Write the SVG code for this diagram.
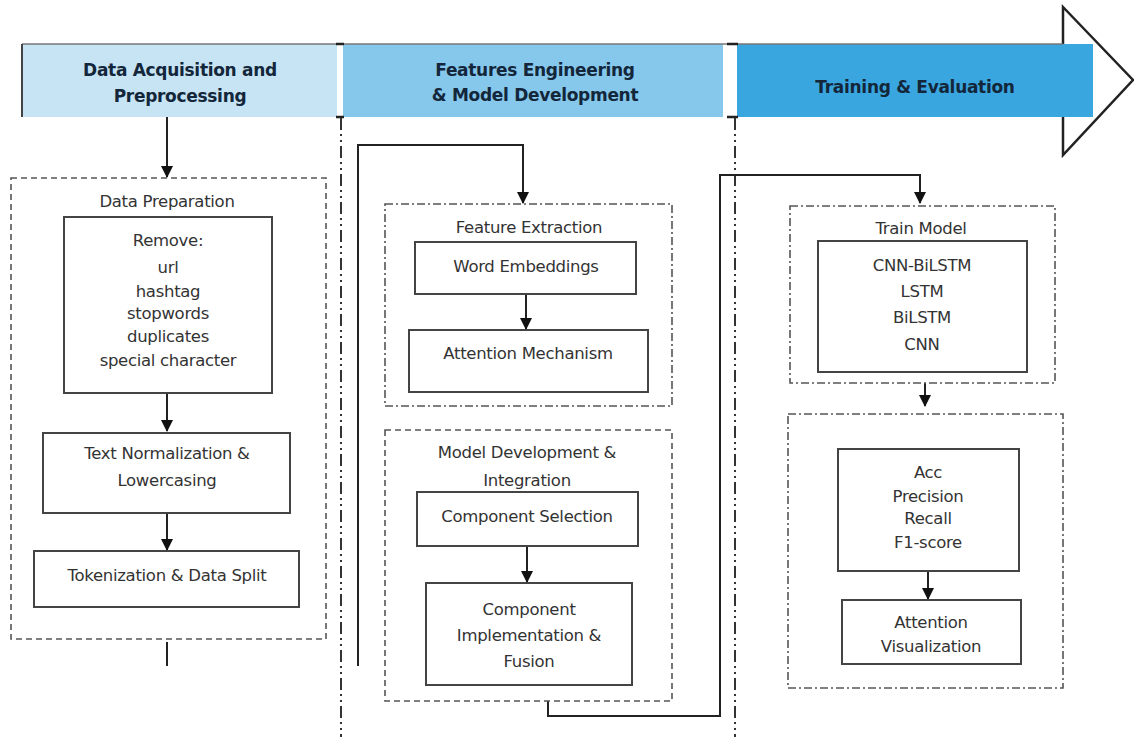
<svg xmlns="http://www.w3.org/2000/svg" width="1134" height="737" viewBox="0 0 1134 737">
<defs>
<marker id="ah" markerWidth="12" markerHeight="12" refX="11" refY="6" orient="auto" markerUnits="userSpaceOnUse">
<path d="M0,0 L12,6 L0,12 Z" fill="#111"/>
</marker>
<style>
.hdr{font-family:"DejaVu Sans",Verdana,sans-serif;font-weight:bold;font-size:17px;fill:#13263a;text-anchor:middle;letter-spacing:-0.3px}
.t{font-family:"DejaVu Sans",Verdana,sans-serif;font-size:16.5px;fill:#333;text-anchor:middle;letter-spacing:-0.3px}
.box{fill:#fff;stroke:#444;stroke-width:2}
.dash{fill:none;stroke:#555;stroke-width:1.6;stroke-dasharray:6,4}
.dd{fill:none;stroke:#555;stroke-width:1.6;stroke-dasharray:8,3,2,3}
.div{fill:none;stroke:#333;stroke-width:2;stroke-dasharray:12,4,2,4,2,4}
.con{fill:none;stroke:#222;stroke-width:2}
</style>
</defs>

<g id="header">
<path d="M1063,44 L1063,7 L1133,80 L1063,155 L1063,117" fill="#fff" stroke="#222" stroke-width="2.5"/>
<rect x="22" y="44" width="315" height="73" fill="#c6e4f4"/>
<rect x="343" y="44" width="380" height="73" fill="#86c8ec"/>
<rect x="737" y="44" width="356" height="73" fill="#3aa6e0"/>
<line x1="22" y1="44" x2="1063" y2="44" stroke="#777" stroke-width="1.5"/>
<line x1="22" y1="44" x2="22" y2="117" stroke="#444" stroke-width="2"/>
<path d="M336,44 H344 M336,117 H344 M727,44 H738 M727,117 H738" stroke="#222" stroke-width="2.5"/>
<text class="hdr" x="180" y="76">Data Acquisition and</text>
<text class="hdr" x="180" y="102">Preprocessing</text>
<text class="hdr" x="535" y="76">Features Engineering</text>
<text class="hdr" x="535" y="101">&amp; Model Development</text>
<text class="hdr" x="915" y="93">Training &amp; Evaluation</text>
</g>

<g id="dividers">
<line class="div" x1="341" y1="118" x2="341" y2="737"/>
<line class="div" x1="735" y1="118" x2="735" y2="737"/>
</g>

<g id="connectors">
<line class="con" x1="167" y1="117" x2="167" y2="177" marker-end="url(#ah)"/>
<line class="con" x1="167" y1="393" x2="167" y2="431" marker-end="url(#ah)"/>
<line class="con" x1="167" y1="513" x2="167" y2="550" marker-end="url(#ah)"/>
<line class="con" x1="167" y1="642" x2="167" y2="666"/>
<path class="con" d="M358,666 V145 H523 V203" marker-end="url(#ah)"/>
<line class="con" x1="526" y1="294" x2="526" y2="329" marker-end="url(#ah)"/>
<line class="con" x1="527" y1="546" x2="527" y2="582" marker-end="url(#ah)"/>
<path class="con" d="M548,701 V716 H720 V175 H920 V203" marker-end="url(#ah)"/>
<line class="con" x1="925" y1="383" x2="925" y2="406" marker-end="url(#ah)"/>
<line class="con" x1="928" y1="571" x2="928" y2="599" marker-end="url(#ah)"/>
</g>

<g id="data-preparation">
<rect class="dash" x="11" y="178" width="315" height="461"/>
<text class="t" x="167" y="207">Data Preparation</text>
</g>
<g id="remove">
<rect class="box" x="64" y="217" width="208" height="176"/>
<text class="t" x="168" y="246">Remove:</text>
<text class="t" x="168" y="273">url</text>
<text class="t" x="168" y="297">hashtag</text>
<text class="t" x="168" y="319">stopwords</text>
<text class="t" x="168" y="342">duplicates</text>
<text class="t" x="168" y="366">special character</text>
</g>
<g id="text-normalization">
<rect class="box" x="43" y="433" width="247" height="80"/>
<text class="t" x="167" y="459">Text Normalization &amp;</text>
<text class="t" x="167" y="486">Lowercasing</text>
</g>
<g id="tokenization">
<rect class="box" x="34" y="551" width="265" height="56"/>
<text class="t" x="167" y="581">Tokenization &amp; Data Split</text>
</g>

<g id="feature-extraction">
<rect class="dd" x="385" y="204" width="287" height="202"/>
<text class="t" x="529" y="233">Feature Extraction</text>
</g>
<g id="word-embeddings">
<rect class="box" x="415" y="242" width="221" height="52"/>
<text class="t" x="526" y="272">Word Embeddings</text>
</g>
<g id="attention-mechanism">
<rect class="box" x="409" y="330" width="239" height="62"/>
<text class="t" x="528" y="359">Attention Mechanism</text>
</g>

<g id="model-development">
<rect class="dash" x="385" y="430" width="287" height="271"/>
<text class="t" x="527" y="458">Model Development &amp;</text>
<text class="t" x="527" y="486">Integration</text>
</g>
<g id="component-selection">
<rect class="box" x="417" y="492" width="221" height="54"/>
<text class="t" x="527" y="522">Component Selection</text>
</g>
<g id="component-implementation">
<rect class="box" x="426" y="583" width="206" height="102"/>
<text class="t" x="529" y="615">Component</text>
<text class="t" x="529" y="641">Implementation &amp;</text>
<text class="t" x="529" y="667">Fusion</text>
</g>

<g id="train-model">
<rect class="dd" x="790" y="206" width="265" height="177"/>
<text class="t" x="921" y="234">Train Model</text>
</g>
<g id="models">
<rect class="box" x="818" y="241" width="209" height="131"/>
<text class="t" x="922" y="271">CNN-BiLSTM</text>
<text class="t" x="922" y="297">LSTM</text>
<text class="t" x="922" y="323">BiLSTM</text>
<text class="t" x="922" y="350">CNN</text>
</g>

<g id="evaluation">
<rect class="dd" x="788" y="414" width="275" height="274"/>
</g>
<g id="metrics">
<rect class="box" x="838" y="449" width="181" height="122"/>
<text class="t" x="928" y="478">Acc</text>
<text class="t" x="928" y="502">Precision</text>
<text class="t" x="928" y="524">Recall</text>
<text class="t" x="928" y="548">F1-score</text>
</g>
<g id="attention-visualization">
<rect class="box" x="842" y="600" width="179" height="64"/>
<text class="t" x="931" y="628">Attention</text>
<text class="t" x="931" y="652">Visualization</text>
</g>
</svg>
